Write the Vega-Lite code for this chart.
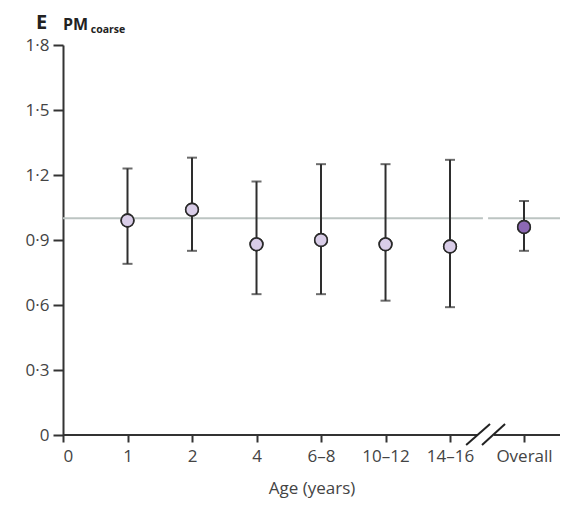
{
  "$schema": "https://vega.github.io/schema/vega-lite/v6.json",
  "width": 497,
  "height": 390,
  "autosize": "none",
  "padding": {"left": 63, "top": 45, "right": 14, "bottom": 71},
  "background": "white",
  "config": {
    "view": {"stroke": null},
    "font": "Open Sans",
    "axis": {"grid": false}
  },
  "title": {"text": "E", "fontSize": 20, "fontWeight": "bold", "anchor": "start", "frame": "group", "dx": -27, "offset": 0, "dy": 16, "color": "#222222"},
  "datasets": {
    "main": [
      {"age": "1", "pos": 1, "or": 0.99, "lo": 0.79, "hi": 1.23, "kind": "age"},
      {"age": "2", "pos": 2, "or": 1.04, "lo": 0.85, "hi": 1.28, "kind": "age"},
      {"age": "4", "pos": 3, "or": 0.88, "lo": 0.65, "hi": 1.17, "kind": "age"},
      {"age": "6–8", "pos": 4, "or": 0.90, "lo": 0.65, "hi": 1.25, "kind": "age"},
      {"age": "10–12", "pos": 5, "or": 0.88, "lo": 0.62, "hi": 1.25, "kind": "age"},
      {"age": "14–16", "pos": 6, "or": 0.87, "lo": 0.59, "hi": 1.27, "kind": "age"},
      {"age": "Overall", "pos": 7.147, "or": 0.96, "lo": 0.85, "hi": 1.08, "kind": "overall"}
    ]
  },
  "layer": [
    {
      "data": {"name": "main"},
      "mark": {"type": "point", "shape": "circle", "filled": true, "size": 160, "stroke": "#2a2a2a", "strokeWidth": 1.6, "opacity": 1},
      "encoding": {
        "x": {
          "field": "pos", "type": "quantitative",
          "scale": {"domain": [0, 7.705], "nice": false, "zero": false},
          "axis": {
            "title": "Age (years)",
            "values": [0, 1, 2, 3, 4, 5, 6, 7.147],
            "labelExpr": "datum.value < 0.5 ? '0' : datum.value < 1.5 ? '1' : datum.value < 2.5 ? '2' : datum.value < 3.5 ? '4' : datum.value < 4.5 ? '6–8' : datum.value < 5.5 ? '10–12' : datum.value < 6.5 ? '14–16' : 'Overall'",
            "domain": false,
            "tickSize": 7, "tickWidth": 2, "tickColor": "#333333",
            "labelFontSize": 17, "labelColor": "#444444", "labelPadding": 6,
            "titleFontSize": 17, "titleFontWeight": "normal", "titleColor": "#444444", "titlePadding": 16
          }
        },
        "y": {
          "field": "or", "type": "quantitative",
          "scale": {"domain": [0, 1.8], "nice": false},
          "axis": {
            "title": "",
            "values": [0, 0.3, 0.6, 0.9, 1.2, 1.5, 1.8],
            "labelExpr": "replace(format(datum.value, '.1~f'), '.', '·')",
            "domainColor": "#333333", "domainWidth": 2,
            "tickSize": 10, "tickWidth": 2, "tickColor": "#333333",
            "labelFontSize": 17, "labelColor": "#444444", "labelPadding": 4
          }
        },
        "fill": {"field": "kind", "type": "nominal", "scale": {"domain": ["age", "overall"], "range": ["#d9cde8", "#8c68b4"]}, "legend": null}
      }
    },
    {
      "data": {"values": [{}]},
      "mark": {"type": "rule", "color": "#bcc4c2", "strokeWidth": 2},
      "encoding": {
        "x": {"datum": 0, "type": "quantitative"},
        "x2": {"datum": 6.51},
        "y": {"datum": 1, "type": "quantitative"}
      }
    },
    {
      "data": {"values": [{}]},
      "mark": {"type": "rule", "color": "#bcc4c2", "strokeWidth": 2},
      "encoding": {
        "x": {"datum": 6.59, "type": "quantitative"},
        "x2": {"datum": 7.705},
        "y": {"datum": 1, "type": "quantitative"}
      }
    },
    {
      "data": {"values": [{}]},
      "mark": {"type": "rule", "color": "#333333", "strokeWidth": 2},
      "encoding": {
        "x": {"datum": 0, "type": "quantitative"},
        "x2": {"datum": 6.434},
        "y": {"datum": 0, "type": "quantitative"}
      }
    },
    {
      "data": {"values": [{}]},
      "mark": {"type": "rule", "color": "#333333", "strokeWidth": 2},
      "encoding": {
        "x": {"datum": 6.682, "type": "quantitative"},
        "x2": {"datum": 7.705},
        "y": {"datum": 0, "type": "quantitative"}
      }
    },
    {
      "data": {"values": [{}]},
      "mark": {"type": "rule", "color": "#222222", "strokeWidth": 2},
      "encoding": {
        "x": {"datum": 6.25, "type": "quantitative"},
        "x2": {"datum": 6.62},
        "y": {"datum": -0.046, "type": "quantitative"},
        "y2": {"datum": 0.051}
      }
    },
    {
      "data": {"values": [{}]},
      "mark": {"type": "rule", "color": "#222222", "strokeWidth": 2},
      "encoding": {
        "x": {"datum": 6.496, "type": "quantitative"},
        "x2": {"datum": 6.853},
        "y": {"datum": -0.046, "type": "quantitative"},
        "y2": {"datum": 0.051}
      }
    },
    {
      "data": {"name": "main"},
      "mark": {"type": "rule", "color": "#2e2e2e", "strokeWidth": 2},
      "encoding": {
        "x": {"field": "pos", "type": "quantitative"},
        "y": {"field": "lo", "type": "quantitative"},
        "y2": {"field": "hi"}
      }
    },
    {
      "data": {"name": "main"},
      "mark": {"type": "tick", "orient": "horizontal", "color": "#2e2e2e", "size": 10, "thickness": 2},
      "encoding": {
        "x": {"field": "pos", "type": "quantitative"},
        "y": {"field": "lo", "type": "quantitative"}
      }
    },
    {
      "data": {"name": "main"},
      "mark": {"type": "tick", "orient": "horizontal", "color": "#2e2e2e", "size": 10, "thickness": 2},
      "encoding": {
        "x": {"field": "pos", "type": "quantitative"},
        "y": {"field": "hi", "type": "quantitative"}
      }
    },
    {
      "data": {"name": "main"},
      "mark": {"type": "point", "shape": "circle", "filled": true, "size": 160, "stroke": "#2a2a2a", "strokeWidth": 1.6, "opacity": 1},
      "encoding": {
        "x": {"field": "pos", "type": "quantitative"},
        "y": {"field": "or", "type": "quantitative"},
        "fill": {"field": "kind", "type": "nominal", "legend": null}
      }
    },
    {
      "data": {"values": [{"label": "PM"}]},
      "mark": {"type": "text", "align": "left", "baseline": "alphabetic", "fontSize": 16, "fontWeight": "bold", "color": "#222222"},
      "encoding": {
        "x": {"datum": 0, "type": "quantitative"},
        "y": {"datum": 1.869, "type": "quantitative"},
        "text": {"field": "label"}
      }
    },
    {
      "data": {"values": [{"label": "coarse"}]},
      "mark": {"type": "text", "align": "left", "baseline": "alphabetic", "fontSize": 10.5, "fontWeight": "bold", "color": "#222222"},
      "encoding": {
        "x": {"datum": 0.43, "type": "quantitative"},
        "y": {"datum": 1.857, "type": "quantitative"},
        "text": {"field": "label"}
      }
    }
  ]
}
